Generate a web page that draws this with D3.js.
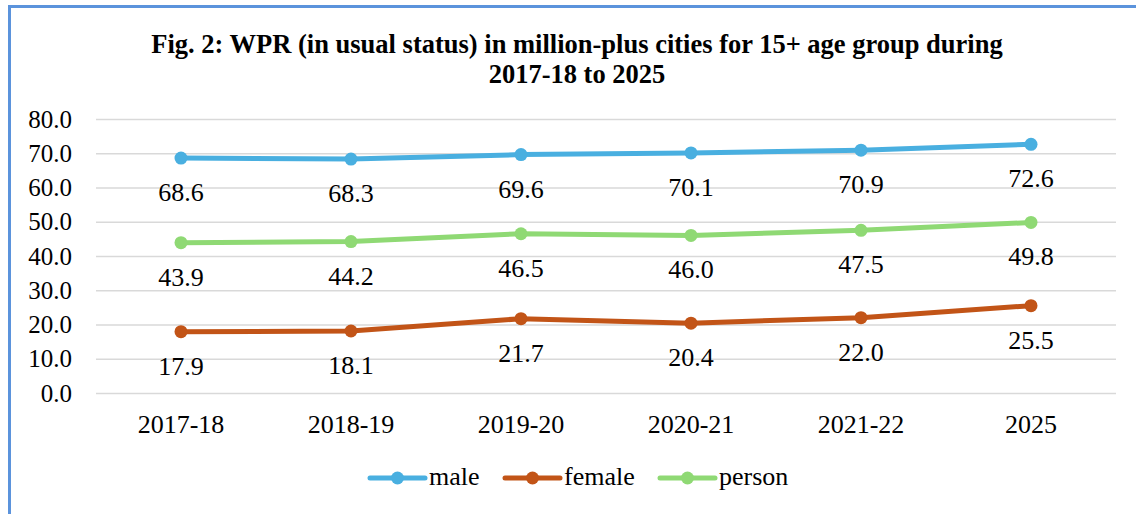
<!DOCTYPE html>
<html>
  <head>
    <meta charset="utf-8">
    <title>WPR in million-plus cities</title>
    <script src="https://d3js.org/d3.v7.min.js"></script>
    <style>
      body { margin: 0; background: #fff; }
    </style>
  </head>
  <body>
    <svg id="chart" width="1136" height="514"></svg>
    <script>
      // data
      var years = ["2017-18", "2018-19", "2019-20", "2020-21", "2021-22", "2025"];
      var male = [68.6, 68.3, 69.6, 70.1, 70.9, 72.6];
      var female = [17.9, 18.1, 21.7, 20.4, 22.0, 25.5];
      var person = [43.9, 44.2, 46.5, 46.0, 47.5, 49.8];
      var yTicks = [0, 10, 20, 30, 40, 50, 60, 70, 80];
      var titleLines = ["Fig. 2: WPR (in usual status) in million-plus cities for 15+ age group during", "2017-18 to 2025"];

      var series = [
        { name: "male", values: male, colour: "#49afe0" },
        { name: "female", values: female, colour: "#c25417" },
        { name: "person", values: person, colour: "#8fd974" }
      ];

      var serif = "Liberation Serif, DejaVu Serif, serif";
      var chart = d3.select("#chart")
        .style("font-family", serif);

      // frame (top and left edges visible)
      chart.append("rect")
        .attr("x", 9.5).attr("y", 6.5)
        .attr("width", 1140).attr("height", 520)
        .attr("fill", "none")
        .attr("stroke", "#5b93dc")
        .attr("stroke-width", 3);

      // title
      chart.append("g").selectAll("text")
        .data(titleLines)
        .enter().append("text")
          .attr("x", 577)
          .attr("y", function(d, i) { return 53 + i * 30; })
          .attr("text-anchor", "middle")
          .style("font-family", serif)
          .style("font-size", "26.5px")
          .style("font-weight", "bold")
          .text(function(d) { return d; });

      // scales
      var x = d3.scaleBand().domain(years).range([96, 1116]);
      var y = d3.scaleLinear().domain([0, 80]).range([393, 119]);

      // gridlines
      var yAxis = d3.axisLeft(y)
        .tickValues(yTicks)
        .tickFormat(d3.format(".1f"))
        .tickSize(-1020)
        .tickPadding(24);
      var yAxisGroup = chart.append("g")
        .attr("transform", "translate(96,0)")
        .call(yAxis);
      yAxisGroup.select(".domain").remove();
      yAxisGroup.selectAll(".tick line")
        .attr("stroke", "#d9d9d9")
        .attr("stroke-width", 1.5);
      yAxisGroup.selectAll(".tick text")
        .attr("fill", "#000")
        .style("font-family", serif)
        .style("font-size", "25px");

      var xAxis = d3.axisBottom(x).tickSize(0).tickPadding(22);
      var xAxisGroup = chart.append("g")
        .attr("transform", "translate(0,393)")
        .call(xAxis);
      xAxisGroup.select(".domain").remove();
      xAxisGroup.selectAll(".tick text")
        .attr("fill", "#000")
        .style("font-family", serif)
        .style("font-size", "26px");

      // lines
      var cx = function(d, i) { return x(years[i]) + x.bandwidth() / 2; };
      var line = d3.line()
        .x(cx)
        .y(function(d) { return y(d); });

      series.forEach(function(s) {
        var g = chart.append("g").attr("class", "series");
        g.append("path")
          .datum(s.values)
          .attr("d", line)
          .attr("fill", "none")
          .attr("stroke", s.colour)
          .attr("stroke-width", 5)
          .attr("stroke-linejoin", "round")
          .attr("stroke-linecap", "round");
        g.selectAll("circle")
          .data(s.values)
          .enter().append("circle")
            .attr("cx", cx)
            .attr("cy", function(d) { return y(d); })
            .attr("r", 6.5)
            .attr("fill", s.colour);
        g.selectAll("text")
          .data(s.values)
          .enter().append("text")
            .attr("x", cx)
            .attr("y", function(d) { return y(d) + 43; })
            .attr("text-anchor", "middle")
            .style("font-family", serif)
            .style("font-size", "26px")
            .text(function(d) { return d3.format(".1f")(d); });
      });

      // legend
      var legendX = [370, 505, 660];
      var legend = chart.append("g").selectAll("g")
        .data(series)
        .enter().append("g")
          .attr("transform", function(d, i) { return "translate(" + legendX[i] + ",478)"; });
      legend.append("line")
        .attr("x1", 0).attr("x2", 55)
        .attr("stroke", function(d) { return d.colour; })
        .attr("stroke-width", 5)
        .attr("stroke-linecap", "round");
      legend.append("circle")
        .attr("cx", 27.5)
        .attr("r", 6.5)
        .attr("fill", function(d) { return d.colour; });
      legend.append("text")
        .attr("x", 59)
        .attr("y", 7)
        .style("font-family", serif)
        .style("font-size", "26px")
        .text(function(d) { return d.name; });
    </script>
  </body>
</html>
